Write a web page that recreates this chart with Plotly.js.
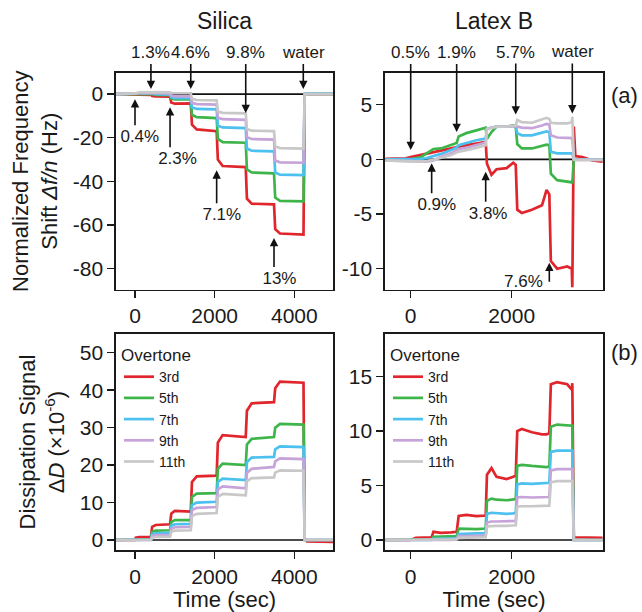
<!DOCTYPE html>
<html>
<head>
<meta charset="utf-8">
<script src="https://cdn.plot.ly/plotly-3.0.1.min.js"></script>
<style>html,body{margin:0;padding:0;background:#fff}#chart{width:642px;height:612px}</style>
</head>
<body>
<div id="chart"></div>
<script>
// ---------------- DATA ----------------
const overtones = ['3rd', '5th', '7th', '9th', '11th'];

// Silica: time (sec)
const silicaTime = [-480, 0, 20, 100, 400, 430, 520, 880, 910, 1000, 1400, 1430, 1550, 2050, 2080, 2200, 2780, 2810, 2930, 3490, 3520, 3640, 4230, 4260, 4320, 4980];
// Silica normalized frequency shift (Hz)
const silicaF3  = [0, 0, -0.1, -0.2, -0.3, -0.8, -1.0, -1.2, -3.8, -4.4, -4.2, -14, -16.2, -17, -30, -33, -33.5, -48, -50.3, -50.6, -62, -64, -64.5, 0, 0, 0];
const silicaF5  = [0, 0, 0, 0.2, 0.3, 0, -0.3, -0.5, -2, -2.4, -2.3, -9.5, -10.6, -11, -20.5, -22, -22.3, -34.5, -36, -36.4, -47.5, -49, -49.2, 0, 0, 0];
const silicaF7  = [0, 0, 0.1, 0.3, 0.4, 0.3, 0, -0.2, -1.4, -1.8, -1.8, -6, -6.8, -7, -14.5, -15.3, -15.6, -25, -26, -26.3, -36, -37, -37.2, 0, 0.2, 0.2];
const silicaF9  = [0, 0, 0.2, 0.5, 0.6, 0.6, 0.4, 0.2, -0.7, -1.0, -1.0, -4, -4.6, -4.8, -10.8, -11.5, -11.8, -19.8, -20.6, -20.9, -30.5, -31.3, -31.5, 0, 0, 0];
const silicaF11 = [0, 0, 0.3, 0.8, 1.0, 1.0, 0.9, 0.8, 0.5, 0.4, 0.4, -2.2, -2.7, -2.9, -8, -8.6, -8.8, -16, -16.8, -17, -24, -24.8, -25, 0, 0, 0];
// Silica dissipation (x1e-6)
const silicaD3  = [0, 0, 0.6, 0.8, 0.8, 3.5, 4.0, 4.2, 7.0, 7.8, 7.6, 15.5, 17, 17.2, 26, 28, 27.5, 34.5, 36.5, 36.8, 40.5, 42.3, 42, 0.5, -0.4, -0.5];
const silicaD5  = [0, 0, 0.1, 0.2, 0.2, 2.2, 2.5, 2.6, 4.8, 5.3, 5.3, 11.5, 12.4, 12.5, 19, 20.4, 20, 25.5, 27, 27.5, 30, 31, 30.8, 0, 0, 0];
const silicaD7  = [0, 0, 0, 0.1, 0.1, 1.6, 1.8, 1.9, 3.8, 4.2, 4.3, 9.3, 10, 10.2, 15.5, 16.4, 16, 20.8, 22, 22.2, 24.2, 25, 24.8, 0, 0, 0];
const silicaD9  = [0, 0, 0, 0.05, 0.05, 1.1, 1.3, 1.4, 3.0, 3.4, 3.5, 8, 8.6, 8.8, 13.5, 14.3, 13.8, 18, 19, 19.5, 21, 21.8, 21.6, 0, 0, 0];
const silicaD11 = [0, 0, 0, 0, 0, 0.6, 0.8, 0.9, 2.2, 2.5, 2.6, 6.4, 7, 7.2, 11.5, 12.3, 11.9, 15.7, 16.5, 16.7, 18, 18.6, 18.5, 0, 0, 0];

// Latex B: time (sec)
const latexTime = [-500, -100, 0, 100, 200, 300, 415, 450, 600, 800, 910, 950, 1100, 1300, 1485, 1510, 1600, 1700, 1900, 2030, 2080, 2110, 2200, 2400, 2600, 2690, 2745, 2775, 2900, 3100, 3190, 3200, 3230, 3260, 3400, 3600, 3800];
// Latex B normalized frequency shift (Hz)
const latexF3  = [0.05, 0.1, 0.2, 0.3, 0.4, 0.5, 0.6, 0.7, 0.8, 1.0, 1.1, 1.2, 1.3, 1.45, 1.6, -0.4, -1.4, -0.9, -0.8, -0.3, -0.5, -4.6, -4.9, -4.6, -4.2, -2.8, -3.2, -9.3, -10.0, -9.8, -10.0, -11.7, 3.0, 0.3, 0.2, -0.1, -0.2];
const latexF5  = [0, 0, 0, 0.1, 0.2, 0.5, 0.9, 0.95, 1.0, 1.3, 1.5, 2.1, 2.4, 2.65, 2.9, 1.9, 2.5, 3.0, 3.0, 3.1, 3.0, 1.4, 1.0, 1.0, 1.25, 1.35, 1.3, -1.3, -1.9, -2.0, -2.1, -2.2, 0, 0, 0, 0, 0];
const latexF7  = [0, 0, 0, 0, 0.05, 0.1, 0.25, 0.3, 0.5, 0.85, 1.1, 1.3, 1.5, 1.75, 1.9, 2.8, 2.9, 3.0, 3.0, 3.05, 3.0, 2.4, 2.2, 2.2, 2.45, 2.55, 2.5, 0.7, 0.55, 0.55, 0.55, 0.55, 0, 0, 0, 0, 0];
const latexF9  = [-0.1, -0.15, -0.2, -0.2, -0.2, -0.2, -0.15, -0.1, 0.25, 0.55, 0.85, 0.95, 1.05, 1.3, 1.55, 2.8, 2.9, 3.0, 3.0, 3.05, 3.0, 3.0, 2.9, 2.85, 3.1, 3.25, 3.2, 2.2, 2.0, 1.95, 1.95, 1.95, 0, -0.05, -0.05, -0.05, -0.05];
const latexF11 = [-0.1, -0.15, -0.2, -0.2, -0.2, -0.15, -0.1, -0.05, 0.15, 0.4, 0.65, 0.7, 0.85, 1.05, 1.3, 2.8, 2.9, 3.0, 3.0, 3.05, 3.1, 3.6, 3.4, 3.35, 3.7, 3.8, 3.7, 3.35, 3.3, 3.3, 3.4, 3.9, 0, -0.05, -0.05, -0.05, -0.05];
// Latex B dissipation (x1e-6)
const latexD3  = [0, 0, 0, 0.2, 0.2, 0.2, 0.25, 0.75, 0.65, 0.7, 0.75, 2.2, 2.3, 2.2, 2.25, 6.0, 6.6, 5.8, 5.6, 5.8, 5.9, 10.0, 10.2, 9.9, 9.7, 9.7, 9.8, 14.3, 14.5, 14.3, 13.8, 14.4, 0.2, 0.25, 0.25, 0.2, 0.2];
const latexD5  = [0, 0, 0, 0, 0, 0, 0.05, 0.3, 0.3, 0.3, 0.35, 1.05, 1.0, 1.0, 1.05, 3.6, 3.8, 3.7, 3.65, 3.7, 3.75, 6.8, 6.9, 6.8, 6.7, 6.7, 6.75, 10.4, 10.6, 10.5, 10.5, 10.5, 0, 0, 0, 0, 0];
const latexD7  = [0, 0, 0, 0, 0, 0, 0, 0.1, 0.1, 0.1, 0.15, 0.55, 0.6, 0.6, 0.6, 2.4, 2.5, 2.45, 2.4, 2.45, 2.5, 5.1, 5.2, 5.15, 5.2, 5.2, 5.25, 8.1, 8.2, 8.2, 8.2, 8.2, 0, 0, 0, 0, 0];
const latexD9  = [0, 0, 0, 0, 0, 0, 0, 0, 0, 0, 0.1, 0.35, 0.35, 0.35, 0.4, 1.6, 1.7, 1.7, 1.7, 1.7, 1.75, 3.9, 3.95, 3.9, 3.9, 3.9, 3.95, 6.4, 6.5, 6.5, 6.5, 6.5, 0, 0, 0, 0, 0];
const latexD11 = [0, 0, 0, 0, 0, 0, 0, 0, 0, 0, 0.05, 0.2, 0.2, 0.2, 0.25, 1.25, 1.3, 1.3, 1.3, 1.3, 1.35, 3.05, 3.1, 3.1, 3.1, 3.1, 3.15, 5.3, 5.4, 5.4, 5.4, 5.4, 0, 0, 0, 0, 0];

// Injection events (sec) and concentration labels
const silicaTopLabels = ['1.3%', '4.6%', '9.8%', 'water'];
const silicaTopTimes  = [400, 1400, 2780, 4225];
const silicaLowLabels = ['0.4%', '2.3%', '7.1%', '13%'];
const silicaLowTimes  = [0, 880, 2050, 3490];
const latexTopLabels  = ['0.5%', '1.9%', '5.7%', 'water'];
const latexTopTimes   = [0, 910, 2080, 3200];
const latexLowLabels  = ['0.9%', '3.8%', '7.6%'];
const latexLowTimes   = [415, 1485, 2745];

// Axis tick labels
const silicaFTicks = [0, -20, -40, -60, -80];
const silicaFTickText = ['0', '-20', '-40', '-60', '-80'];
const latexFTicks = [5, 0, -5, -10];
const latexFTickText = ['5', '0', '-5', '-10'];
const silicaDTicks = [0, 10, 20, 30, 40, 50];
const latexDTicks = [0, 5, 10, 15];
const silicaTimeTicks = [0, 2000, 4000];
const latexTimeTicks = [0, 2000];

// ---------------- STYLE / LAYOUT ----------------
const colors = ['#e0262c', '#3db54a', '#4cc0ee', '#c6a3d8', '#c8c8c8'];
const FONT = 'Liberation Sans, Arial, Helvetica, sans-serif';
const INK = '#1a1a1a';
const W = 642, H = 612;
const px = v => v / W, py = v => 1 - v / H;

const silicaF = [silicaF3, silicaF5, silicaF7, silicaF9, silicaF11];
const silicaD = [silicaD3, silicaD5, silicaD7, silicaD9, silicaD11];
const latexF = [latexF3, latexF5, latexF7, latexF9, latexF11];
const latexD = [latexD3, latexD5, latexD7, latexD9, latexD11];

const traces = [];
function addSet(time, series, xa, ya, legendName) {
  series.forEach((ys, i) => {
    const tr = {
      x: time, y: ys, xaxis: xa, yaxis: ya, type: 'scatter', mode: 'lines',
      name: overtones[i], line: {color: colors[i], width: 2.7},
      showlegend: !!legendName, hoverinfo: 'skip'
    };
    if (legendName) tr.legend = legendName;
    traces.push(tr);
  });
}
addSet(silicaTime, silicaF, 'x', 'y', null);
addSet(latexTime, latexF, 'x2', 'y2', null);
addSet(silicaTime, silicaD, 'x3', 'y3', 'legend');
addSet(latexTime, latexD, 'x4', 'y4', 'legend2');

const xL = [px(116), px(333)], xR = [px(385), px(603)];
const yT = [py(289.5), py(73)], yB = [py(550), py(334)];
const silicaRange = [-477, 4971], latexRange = [-509, 3808];

function axisBase() {
  return {
    showline: true, mirror: true, linecolor: INK, linewidth: 1.6,
    ticks: 'outside', ticklen: 7, tickwidth: 1.5, tickcolor: INK,
    showgrid: false, zeroline: false, fixedrange: true,
    tickfont: {family: FONT, size: 21, color: INK}
  };
}
function xAxis(domain, range, ticks, anchor, withTitle) {
  const a = Object.assign(axisBase(), {domain: domain, range: range, tickmode: 'array', tickvals: ticks, anchor: anchor});
  if (withTitle) a.title = {text: 'Time (sec)', font: {family: FONT, size: 22, color: INK}, standoff: 0};
  return a;
}
function yAxis(domain, range, ticks, text, anchor, title) {
  const a = Object.assign(axisBase(), {domain: domain, range: range, tickmode: 'array', tickvals: ticks, ticktext: text, anchor: anchor});
  if (title) a.title = {text: title, font: {family: FONT, size: 22, color: INK}, standoff: 9};
  return a;
}

const annotations = [];
const annFont = {family: FONT, size: 17, color: INK};
// one annotation = label text at the arrow tail + arrow to the event point
function arrowLabel(xref, yref, x, y, ay, text, xanchor, yanchor, pad) {
  annotations.push({xref: xref, yref: yref, x: x, y: y, ax: 0, ay: ay, axref: 'pixel', ayref: 'pixel',
    text: text, font: annFont, xanchor: xanchor, yanchor: yanchor, borderpad: pad,
    showarrow: true, arrowhead: 2, arrowsize: 1.05, arrowwidth: 1.6, arrowcolor: '#111', standoff: 0});
}
const NB = '&nbsp;';

// Silica frequency events
const silicaTopHead = [2.3, 2.3, -8.7, 2.3];
const silicaTopAy = [-25, -25, -49, -25];
silicaTopLabels.forEach((l, i) => arrowLabel('x', 'y', silicaTopTimes[i], silicaTopHead[i], silicaTopAy[i], l, 'center', 'bottom', 1));
const silicaLowHead = [-2.3, -6, -35, -66];
const silicaLowAy = [26, 40, 33, 29];
const silicaLowPad = [2, 3, 2, 2];
silicaLowLabels.forEach((l, i) => arrowLabel('x', 'y', silicaLowTimes[i], silicaLowHead[i], silicaLowAy[i],
  NB.repeat(silicaLowPad[i]) + l, 'center', 'top', 1));
// Latex frequency events
const latexTopHead = [0.85, 2.5, 4.1, 4.2];
const latexTopAy = [-86, -68, -51, -50];
latexTopLabels.forEach((l, i) => arrowLabel('x2', 'y2', latexTopTimes[i], latexTopHead[i], latexTopAy[i], l, 'center', 'bottom', 1));
const latexLowHead = [-0.36, -1.13, -9.45];
const latexLowAy = [30, 30, 19];
latexLowLabels.forEach((l, i) => {
  if (i < 2) arrowLabel('x2', 'y2', latexLowTimes[i], latexLowHead[i], latexLowAy[i], NB.repeat(2 - i) + l, 'center', 'top', 1);
  else arrowLabel('x2', 'y2', latexLowTimes[i], latexLowHead[i], latexLowAy[i], l, 'right', 'middle', 5);
});

// Column titles and panel letters
const bigText = (x, y, text, size) => ({xref: 'paper', yref: 'paper', x: x, y: y, text: text, showarrow: false,
  font: {family: FONT, size: size, color: INK}, xanchor: 'center', yanchor: 'middle'});
annotations.push(bigText((xL[0] + xL[1]) / 2, py(21), 'Silica', 23));
annotations.push(bigText((xR[0] + xR[1]) / 2, py(21), 'Latex B', 23));
annotations.push(bigText(px(624), py(95), '(a)', 22));
annotations.push(bigText(px(624), py(352), '(b)', 22));

// Zero reference lines (baseline until water rinse)
const zeroLine = (xref, yref, x0, x1) => ({type: 'line', xref: xref, yref: yref, x0: x0, x1: x1, y0: 0, y1: 0,
  line: {color: '#111', width: 1.6}, layer: 'below'});
const shapes = [
  zeroLine('x', 'y', silicaRange[0], silicaTopTimes[3]),
  zeroLine('x2', 'y2', latexRange[0], latexTopTimes[3]),
  zeroLine('x3', 'y3', silicaRange[0], silicaTopTimes[3]),
  zeroLine('x4', 'y4', latexRange[0], latexTopTimes[3] + 20)
];

const legendBase = (x) => ({
  x: x, y: py(339), xanchor: 'left', yanchor: 'top', bgcolor: 'rgba(0,0,0,0)', borderwidth: 0,
  font: {family: FONT, size: 14, color: INK}, itemwidth: 30, tracegroupgap: 0,
  title: {text: 'Overtone', font: {family: FONT, size: 17, color: INK}}
});

const layout = {
  width: W, height: H, margin: {l: 0, r: 0, t: 0, b: 0},
  paper_bgcolor: '#fff', plot_bgcolor: '#fff',
  font: {family: FONT, color: INK},
  xaxis: xAxis(xL, silicaRange, silicaTimeTicks, 'y', false),
  yaxis: yAxis(yT, [-89.7, 9.7], silicaFTicks, silicaFTickText, 'x', 'Normalized Frequency<br>Shift <i>Δf/n</i> (Hz)'),
  xaxis2: xAxis(xR, latexRange, latexTimeTicks, 'y2', false),
  yaxis2: yAxis(yT, [-11.9, 7.9], latexFTicks, latexFTickText, 'x2', null),
  xaxis3: xAxis(xL, silicaRange, silicaTimeTicks, 'y3', true),
  yaxis3: yAxis(yB, [-2.67, 55], silicaDTicks, silicaDTicks.map(String), 'x3', 'Dissipation Signal<br>Δ<i>D</i> (×10<sup>-6</sup>)'),
  xaxis4: xAxis(xR, latexRange, latexTimeTicks, 'y4', true),
  yaxis4: yAxis(yB, [-0.92, 18.92], latexDTicks, latexDTicks.map(String), 'x4', null),
  legend: legendBase(px(119)),
  legend2: legendBase(px(388)),
  annotations: annotations,
  shapes: shapes,
  showlegend: true
};

Plotly.newPlot('chart', traces, layout, {staticPlot: true, displayModeBar: false});
</script>
</body>
</html>
